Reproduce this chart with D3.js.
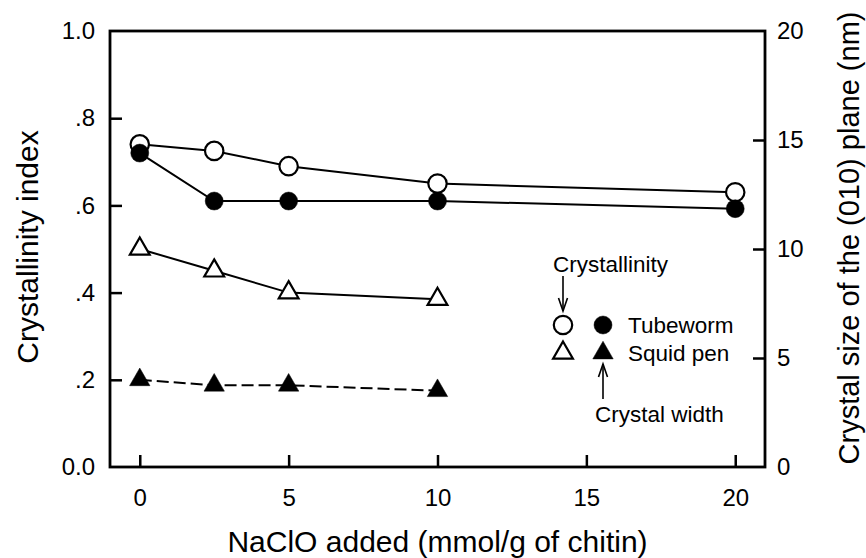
<!DOCTYPE html>
<html>
<head>
<meta charset="utf-8">
<script src="https://cdn.jsdelivr.net/npm/d3@7"></script>
<style>
  html, body { margin: 0; padding: 0; background: #fff; }
  svg { display: block; font-family: "Liberation Sans", Arial, Helvetica, sans-serif; }
</style>
</head>
<body>
<svg id="chart" width="866" height="558"></svg>
<script>
// NaClO added (mmol/g of chitin)
const tubewormX = [0, 2.5, 5, 10, 20];
const squidX = [0, 2.5, 5, 10];

// Crystallinity index (left axis)
const tubewormCrystallinity = [0.74, 0.725, 0.69, 0.65, 0.63];
const squidCrystallinity = [0.50, 0.45, 0.40, 0.385];

// Crystal width of the (010) plane, nm (right axis)
const tubewormWidth = [14.4, 12.2, 12.2, 12.2, 11.85];
const squidWidth = [4.0, 3.75, 3.75, 3.5];

const xTicks = [0, 5, 10, 15, 20];
const leftTicks = [0, 0.2, 0.4, 0.6, 0.8, 1.0];
const leftTickLabels = ["0.0", ".2", ".4", ".6", ".8", "1.0"];
const rightTicks = [0, 5, 10, 15, 20];

const svg = d3.select("#chart");
const m = { left: 110, right: 765, top: 31, bottom: 467 };

const x = d3.scaleLinear().domain([-1, 21]).range([m.left, m.right]);
const yL = d3.scaleLinear().domain([0, 1]).range([m.bottom, m.top]);
const yR = d3.scaleLinear().domain([0, 20]).range([m.bottom, m.top]);

const tickFont = 24;

// axes with inward ticks
const gx = svg.append("g").attr("transform", `translate(0,${m.bottom})`)
  .call(d3.axisBottom(x).tickValues(xTicks).tickSizeInner(-12).tickSizeOuter(0).tickPadding(22));
const gl = svg.append("g").attr("transform", `translate(${m.left},0)`)
  .call(d3.axisLeft(yL).tickValues(leftTicks).tickFormat((d, i) => leftTickLabels[i])
    .tickSizeInner(-12).tickSizeOuter(0).tickPadding(15));
const gr = svg.append("g").attr("transform", `translate(${m.right},0)`)
  .call(d3.axisRight(yR).tickValues(rightTicks).tickSizeInner(-12).tickSizeOuter(0).tickPadding(12));

[gx, gl, gr].forEach(g => {
  g.select(".domain").remove();
  g.selectAll(".tick line").attr("stroke", "#000").attr("stroke-width", 2.5);
  g.selectAll(".tick text").attr("fill", "#000").style("font-size", tickFont + "px")
    .style("font-family", "'Liberation Sans', Arial, sans-serif");
});
// corner ticks coincide with the frame
gl.selectAll(".tick").filter(d => d === 0 || d === 1).select("line").remove();
gr.selectAll(".tick").filter(d => d === 0 || d === 20).select("line").remove();

// plot frame
svg.append("rect")
  .attr("x", m.left).attr("y", m.top)
  .attr("width", m.right - m.left).attr("height", m.bottom - m.top)
  .attr("fill", "none").attr("stroke", "#000").attr("stroke-width", 2.8);

// axis titles
const titleFont = 30;
svg.append("text")
  .attr("x", (m.left + m.right) / 2).attr("y", 552)
  .attr("text-anchor", "middle").style("font-size", titleFont + "px")
  .text("NaClO added (mmol/g of chitin)");
svg.append("text")
  .attr("transform", "translate(38,247) rotate(-90)")
  .attr("text-anchor", "middle").style("font-size", titleFont + "px")
  .text("Crystallinity index");
svg.append("text")
  .attr("transform", "translate(859,238) rotate(-90)")
  .attr("text-anchor", "middle").style("font-size", 29 + "px")
  .text("Crystal size of the (010) plane (nm)");

// series
const series = [
  { xs: tubewormX, ys: tubewormCrystallinity, scale: yL, shape: d3.symbolCircle, filled: false, dash: null },
  { xs: squidX, ys: squidCrystallinity, scale: yL, shape: d3.symbolTriangle, filled: false, dash: null },
  { xs: tubewormX, ys: tubewormWidth, scale: yR, shape: d3.symbolCircle, filled: true, dash: null },
  { xs: squidX, ys: squidWidth, scale: yR, shape: d3.symbolTriangle, filled: true, dash: "12,5" }
];

const plot = svg.append("g");
series.forEach(s => {
  const pts = s.xs.map((v, i) => [x(v), s.scale(s.ys[i])]);
  plot.append("path")
    .attr("d", d3.line()(pts))
    .attr("fill", "none").attr("stroke", "#000").attr("stroke-width", 2)
    .attr("stroke-dasharray", s.dash);
});

function symbolSize(shape, filled) {
  if (shape === d3.symbolCircle) return filled ? Math.PI * 9 * 9 : Math.PI * 9.2 * 9.2;
  return filled ? 180 : 170;
}

series.forEach(s => {
  plot.selectAll(null).data(s.xs.map((v, i) => [v, s.ys[i]])).join("path")
    .attr("transform", d => `translate(${x(d[0])},${s.scale(d[1])})`)
    .attr("d", d3.symbol(s.shape, symbolSize(s.shape, s.filled)))
    .attr("fill", s.filled ? "#000" : "#fff")
    .attr("stroke", "#000").attr("stroke-width", s.filled ? 0.5 : 2.2);
});

// legend
const lg = svg.append("g");
const legFont = 22.5;
const colOpen = 563, colFilled = 603;
const rowCircle = 325, rowTri = 353;

lg.append("text").attr("x", 553).attr("y", 272).style("font-size", legFont + "px").text("Crystallinity");
lg.append("text").attr("x", 628).attr("y", rowCircle + 8).style("font-size", legFont + "px").text("Tubeworm");
lg.append("text").attr("x", 628).attr("y", rowTri + 8).style("font-size", legFont + "px").text("Squid pen");
lg.append("text").attr("x", 595).attr("y", 422).style("font-size", legFont + "px").text("Crystal width");

const legendMarks = [
  { cx: colOpen, cy: rowCircle, shape: d3.symbolCircle, filled: false },
  { cx: colFilled, cy: rowCircle, shape: d3.symbolCircle, filled: true },
  { cx: colOpen, cy: rowTri, shape: d3.symbolTriangle, filled: false },
  { cx: colFilled, cy: rowTri, shape: d3.symbolTriangle, filled: true }
];
legendMarks.forEach(d => {
  lg.append("path")
    .attr("transform", `translate(${d.cx},${d.cy})`)
    .attr("d", d3.symbol(d.shape, symbolSize(d.shape, d.filled)))
    .attr("fill", d.filled ? "#000" : "#fff")
    .attr("stroke", "#000").attr("stroke-width", d.filled ? 0.5 : 2.2);
});

// open-headed arrows
function arrow(x0, y0, y1) {
  const dir = Math.sign(y1 - y0);
  lg.append("line").attr("x1", x0).attr("y1", y0).attr("x2", x0).attr("y2", y1)
    .attr("stroke", "#000").attr("stroke-width", 1.6);
  lg.append("path")
    .attr("d", `M${x0 - 4.5},${y1 - dir * 13}L${x0},${y1}L${x0 + 4.5},${y1 - dir * 13}`)
    .attr("fill", "none").attr("stroke", "#000").attr("stroke-width", 1.6);
}
arrow(colOpen, 276, 311);
arrow(colFilled, 399, 364);
</script>
</body>
</html>
